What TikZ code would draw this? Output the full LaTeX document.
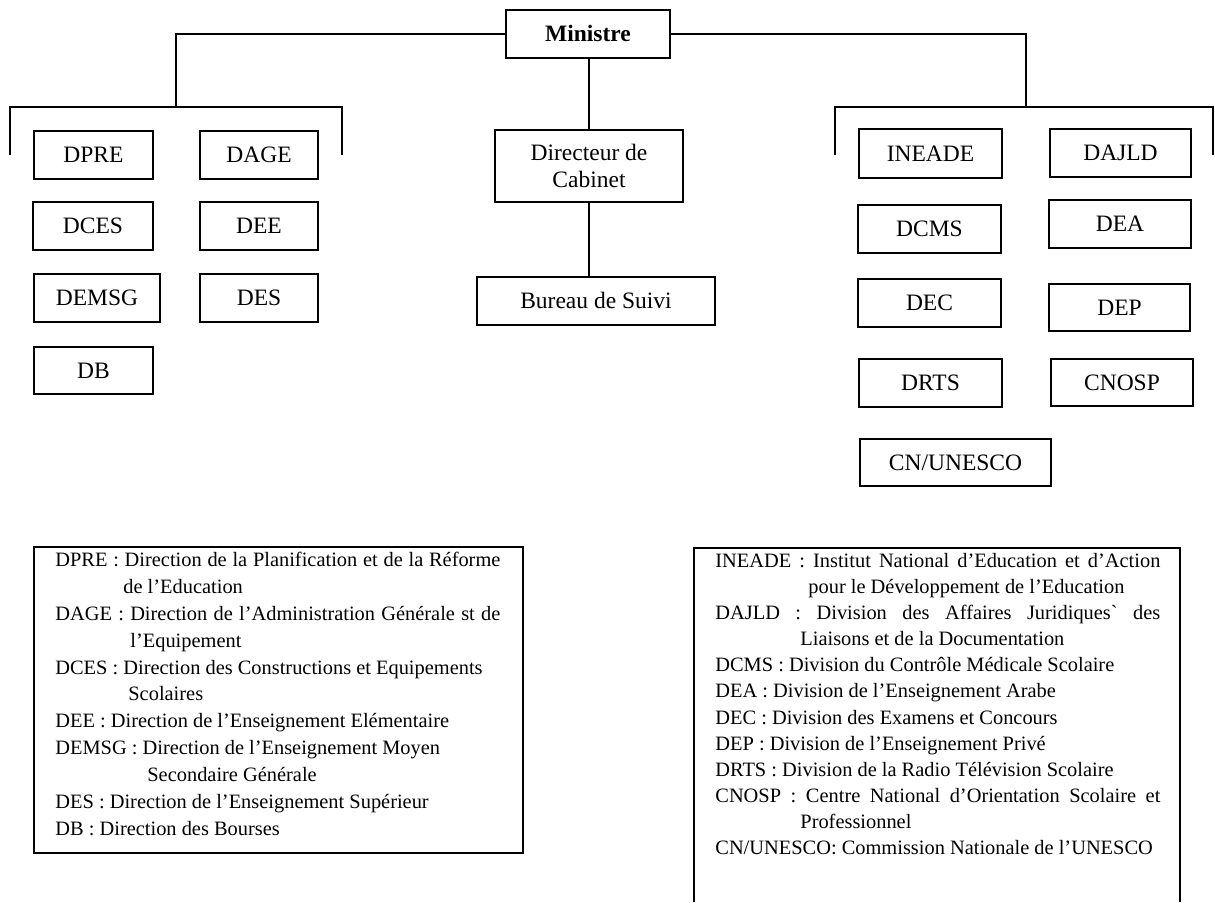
\documentclass[tikz,border=0pt]{standalone}
\usepackage{fontspec}
\setmainfont{Liberation Serif}
\begin{document}
\begin{tikzpicture}[x=0.5pt,y=-0.5pt,
  box/.style={draw,line width=0.9pt,inner sep=0pt,align=center,
    font=\fontsize{11.75}{13.5}\selectfont},
  onebox/.style={box,text height=7.8pt,text depth=0pt},
  sz/.style 2 args={minimum width=#1*0.5pt,minimum height=#2*0.5pt},
  conn/.style={line width=0.9pt},
  frame/.style={draw,line width=0.9pt,inner sep=0pt},
  legL/.style={anchor=north west,inner sep=0pt,align=left,
    font=\fontsize{10.2}{13.45}\selectfont},
  legR/.style={anchor=north west,inner sep=0pt,align=left,
    font=\fontsize{10.2}{13.05}\selectfont}]
\useasboundingbox (0,0) rectangle (1215,902);

% top level
\node[onebox,sz={164}{48}] (min) at (588,34) {\bfseries Ministre};
\node[box,sz={188}{72}] (dir) at (589,166) {Directeur de\\Cabinet};
\node[onebox,sz={238}{48}] (bur) at (596,301) {Bureau de Suivi};

% left group
\node[onebox,sz={119}{48}] (dpre) at (93.5,155) {DPRE};
\node[onebox,sz={118}{48}] (dage) at (259,155) {DAGE};
\node[onebox,sz={120}{48}] (dces) at (93,226) {DCES};
\node[onebox,sz={118}{48}] (dee) at (259,226) {DEE};
\node[onebox,sz={126}{48}] (demsg) at (97,298) {DEMSG};
\node[onebox,sz={118}{48}] (des) at (259,298) {DES};
\node[onebox,sz={119}{47}] (db) at (93.5,370.5) {DB};

% right group
\node[onebox,sz={143}{49}] (ineade) at (930.5,153.5) {INEADE};
\node[onebox,sz={141}{48}] (dajld) at (1120.5,153) {DAJLD};
\node[onebox,sz={143}{48}] (dcms) at (929.5,229) {DCMS};
\node[onebox,sz={142}{48}] (dea) at (1120,224) {DEA};
\node[onebox,sz={143}{48}] (dec) at (929.5,303) {DEC};
\node[onebox,sz={141}{47}] (dep) at (1119.5,307.5) {DEP};
\node[onebox,sz={143}{48}] (drts) at (930.5,383) {DRTS};
\node[onebox,sz={142}{47}] (cnosp) at (1122,382.5) {CNOSP};
\node[onebox,sz={191}{47}] (cnun) at (955.5,462.5) {CN/UNESCO};

% connector coordinates
\coordinate (lt) at (176,34);
\coordinate (lm) at (176,107);
\coordinate (la) at (10,107);
\coordinate (la2) at (10,155);
\coordinate (lb) at (342,107);
\coordinate (lb2) at (342,155);
\coordinate (rt) at (1026,34);
\coordinate (rm) at (1026,107);
\coordinate (ra) at (835,107);
\coordinate (ra2) at (835,155);
\coordinate (rb) at (1213,107);
\coordinate (rb2) at (1213,155);

\draw[conn] (min.west) -- (lt) -- (lm);
\draw[conn] (la2) -- (la) -- (lb) -- (lb2);
\draw[conn] (min.east) -- (rt) -- (rm);
\draw[conn] (ra2) -- (ra) -- (rb) -- (rb2);
\draw[conn] (min.south -| dir.north) -- (dir.north);
\draw[conn] (dir.south) -- (dir.south |- bur.north);

% legends
\node[frame,sz={489}{306},anchor=north west] (legLframe) at (33,546) {};
\node[legL] (legLtext) at (55,546) {\rule{0pt}{10pt}\makebox[222.5pt][s]{DPRE : Direction de la Planification et de la Réforme}\\
\hspace*{34pt}de l’Education\\
\makebox[222.5pt][s]{DAGE : Direction de l’Administration Générale st de}\\
\hspace*{37.5pt}l’Equipement\\
DCES : Direction des Constructions et Equipements\\
\hspace*{36.5pt}Scolaires\\
DEE : Direction de l’Enseignement Elémentaire\\
DEMSG : Direction de l’Enseignement Moyen\\
\hspace*{46pt}Secondaire Générale\\
DES : Direction de l’Enseignement Supérieur\\
DB : Direction des Bourses};

\coordinate (rfa) at (694,902);
\coordinate (rfb) at (694,548);
\coordinate (rfc) at (1180,548);
\coordinate (rfd) at (1180,902);
\draw[conn] (rfa) -- (rfb) -- (rfc) -- (rfd);
\node[legR] (legRtext) at (715,547) {\rule{0pt}{10pt}\makebox[222.5pt][s]{INEADE : Institut National d’Education et d’Action}\\
\hspace*{46.5pt}pour le Développement de l’Education\\
\makebox[222.5pt][s]{DAJLD : Division des Affaires Juridiques\textasciigrave{} des}\\
\hspace*{42.5pt}Liaisons et de la Documentation\\
DCMS : Division du Contrôle Médicale Scolaire\\
DEA : Division de l’Enseignement Arabe\\
DEC : Division des Examens et Concours\\
DEP : Division de l’Enseignement Privé\\
DRTS : Division de la Radio Télévision Scolaire\\
\makebox[222.5pt][s]{CNOSP : Centre National d’Orientation Scolaire et}\\
\hspace*{42.5pt}Professionnel\\
CN/UNESCO: Commission Nationale de l’UNESCO};
\end{tikzpicture}
\end{document}
